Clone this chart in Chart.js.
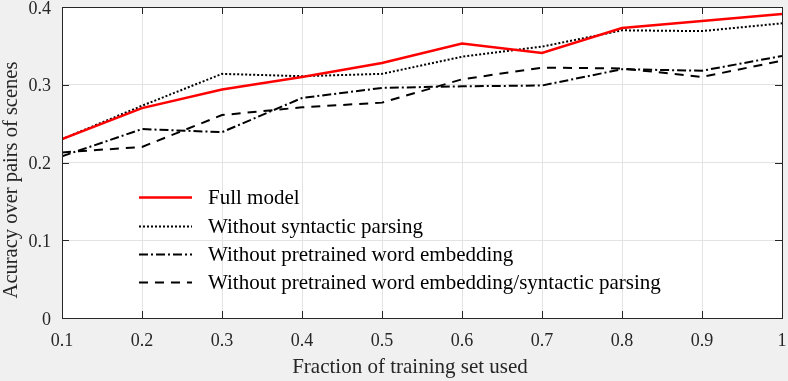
<!DOCTYPE html>
<html>
<head>
<meta charset="utf-8">
<script src="https://cdn.jsdelivr.net/npm/chart.js@4"></script>
<style>
  html, body { margin: 0; padding: 0; background: #f0f0f0; }
  #wrap { width: 788px; height: 381px; }
</style>
</head>
<body>
<div id="wrap"><canvas id="chart" width="788" height="381"></canvas></div>
<script>
const fractions = [0.1, 0.2, 0.3, 0.4, 0.5, 0.6, 0.7, 0.8, 0.9, 1.0];
const fullModel = [0.230, 0.270, 0.294, 0.310, 0.328, 0.353, 0.341, 0.373, 0.382, 0.391];
const noSyntactic = [0.230, 0.273, 0.314, 0.311, 0.314, 0.336, 0.349, 0.370, 0.369, 0.379];
const noPretrained = [0.208, 0.243, 0.239, 0.283, 0.296, 0.298, 0.299, 0.320, 0.318, 0.337];
const noBoth = [0.213, 0.220, 0.261, 0.271, 0.277, 0.307, 0.322, 0.321, 0.310, 0.331];
const seriesNames = [
    'Full model',
    'Without syntactic parsing',
    'Without pretrained word embedding',
    'Without pretrained word embedding/syntactic parsing'
];
const xTitle = 'Fraction of training set used';
const yTitle = 'Acuracy over pairs of scenes';

const serif = '"Liberation Serif", "DejaVu Serif", serif';
const axisColor = '#262626';

function points(ys) {
    return fractions.map((x, i) => ({ x: x, y: ys[i] }));
}

// white plot area, inward tick marks, axis titles and legend like the original
const frame = {
    id: 'frame',
    beforeDraw(chart) {
        const { ctx, chartArea: a } = chart;
        ctx.save();
        ctx.fillStyle = '#ffffff';
        ctx.fillRect(a.left, a.top, a.right - a.left, a.bottom - a.top);
        ctx.restore();
    },
    afterDatasetsDraw(chart) {
        const { ctx, chartArea: a, scales } = chart;
        ctx.save();
        ctx.strokeStyle = axisColor;
        ctx.lineWidth = 1;
        ctx.beginPath();
        scales.x.ticks.forEach(t => {
            const px = Math.round(scales.x.getPixelForValue(t.value)) + 0.5;
            ctx.moveTo(px, a.bottom); ctx.lineTo(px, a.bottom - 7);
            ctx.moveTo(px, a.top); ctx.lineTo(px, a.top + 7);
        });
        scales.y.ticks.forEach(t => {
            const py = Math.round(scales.y.getPixelForValue(t.value)) + 0.5;
            ctx.moveTo(a.left, py); ctx.lineTo(a.left + 7, py);
            ctx.moveTo(a.right, py); ctx.lineTo(a.right - 7, py);
        });
        ctx.stroke();
        ctx.strokeRect(Math.round(a.left) + 0.5, Math.round(a.top) + 0.5,
            Math.round(a.right - a.left), Math.round(a.bottom - a.top));
        ctx.restore();
    },
    afterDraw(chart) {
        const { ctx } = chart;
        ctx.save();
        ctx.font = '21px ' + serif;
        ctx.textBaseline = 'middle';
        ctx.textAlign = 'center';
        ctx.fillStyle = axisColor;
        ctx.fillText(xTitle, 410, 367);
        ctx.save();
        ctx.translate(12, 180);
        ctx.rotate(-Math.PI / 2);
        ctx.font = '20.5px ' + serif;
        ctx.fillText(yTitle, 0, 0);
        ctx.restore();

        // legend inside the axes, no box
        ctx.textAlign = 'left';
        const rows = [197, 226, 254, 282];
        chart.data.datasets.forEach((ds, i) => {
            const y = rows[i] + 0.5;
            ctx.strokeStyle = ds.borderColor;
            ctx.lineWidth = ds.borderWidth;
            ctx.setLineDash(ds.borderDash || []);
            ctx.beginPath();
            ctx.moveTo(139, y);
            ctx.lineTo(192, y);
            ctx.stroke();
            ctx.setLineDash([]);
            ctx.fillStyle = '#000000';
            ctx.fillText(ds.label, 208, y + 1);
        });
        ctx.restore();
    }
};

new Chart(document.getElementById('chart').getContext('2d'), {
    type: 'line',
    data: {
        datasets: [
            {
                label: seriesNames[0],
                data: points(fullModel),
                borderColor: '#ff0000',
                borderWidth: 2.5,
                pointRadius: 0,
                tension: 0
            },
            {
                label: seriesNames[1],
                data: points(noSyntactic),
                borderColor: '#000000',
                borderWidth: 2,
                borderDash: [2, 2],
                pointRadius: 0,
                tension: 0
            },
            {
                label: seriesNames[2],
                data: points(noPretrained),
                borderColor: '#000000',
                borderWidth: 2,
                borderDash: [9, 3, 2, 3],
                pointRadius: 0,
                tension: 0
            },
            {
                label: seriesNames[3],
                data: points(noBoth),
                borderColor: '#000000',
                borderWidth: 2,
                borderDash: [9, 7],
                pointRadius: 0,
                tension: 0
            }
        ]
    },
    options: {
        responsive: false,
        animation: false,
        layout: { padding: { left: 0, right: 6, top: 7, bottom: 0 } },
        plugins: {
            legend: { display: false },
            tooltip: { enabled: false }
        },
        scales: {
            x: {
                type: 'linear',
                min: 0.1,
                max: 1,
                afterFit(s) {
                    s.height = 63;
                    s.paddingLeft = 0;
                    s.paddingRight = 0;
                },
                ticks: {
                    stepSize: 0.1,
                    color: axisColor,
                    font: { family: serif, size: 18 },
                    padding: 12,
                    maxRotation: 0,
                    callback: v => String(+v.toFixed(1))
                },
                grid: { color: '#e3e3e3', drawTicks: false },
                border: { display: false }
            },
            y: {
                min: 0,
                max: 0.4,
                afterFit(s) {
                    s.width = 62;
                    s.paddingTop = 0;
                    s.paddingBottom = 0;
                },
                ticks: {
                    stepSize: 0.1,
                    color: axisColor,
                    font: { family: serif, size: 18 },
                    padding: 11,
                    labelOffset: 2,
                    callback: v => String(+v.toFixed(1))
                },
                grid: { color: '#e3e3e3', drawTicks: false },
                border: { display: false }
            }
        }
    },
    plugins: [frame]
});
</script>
</body>
</html>
